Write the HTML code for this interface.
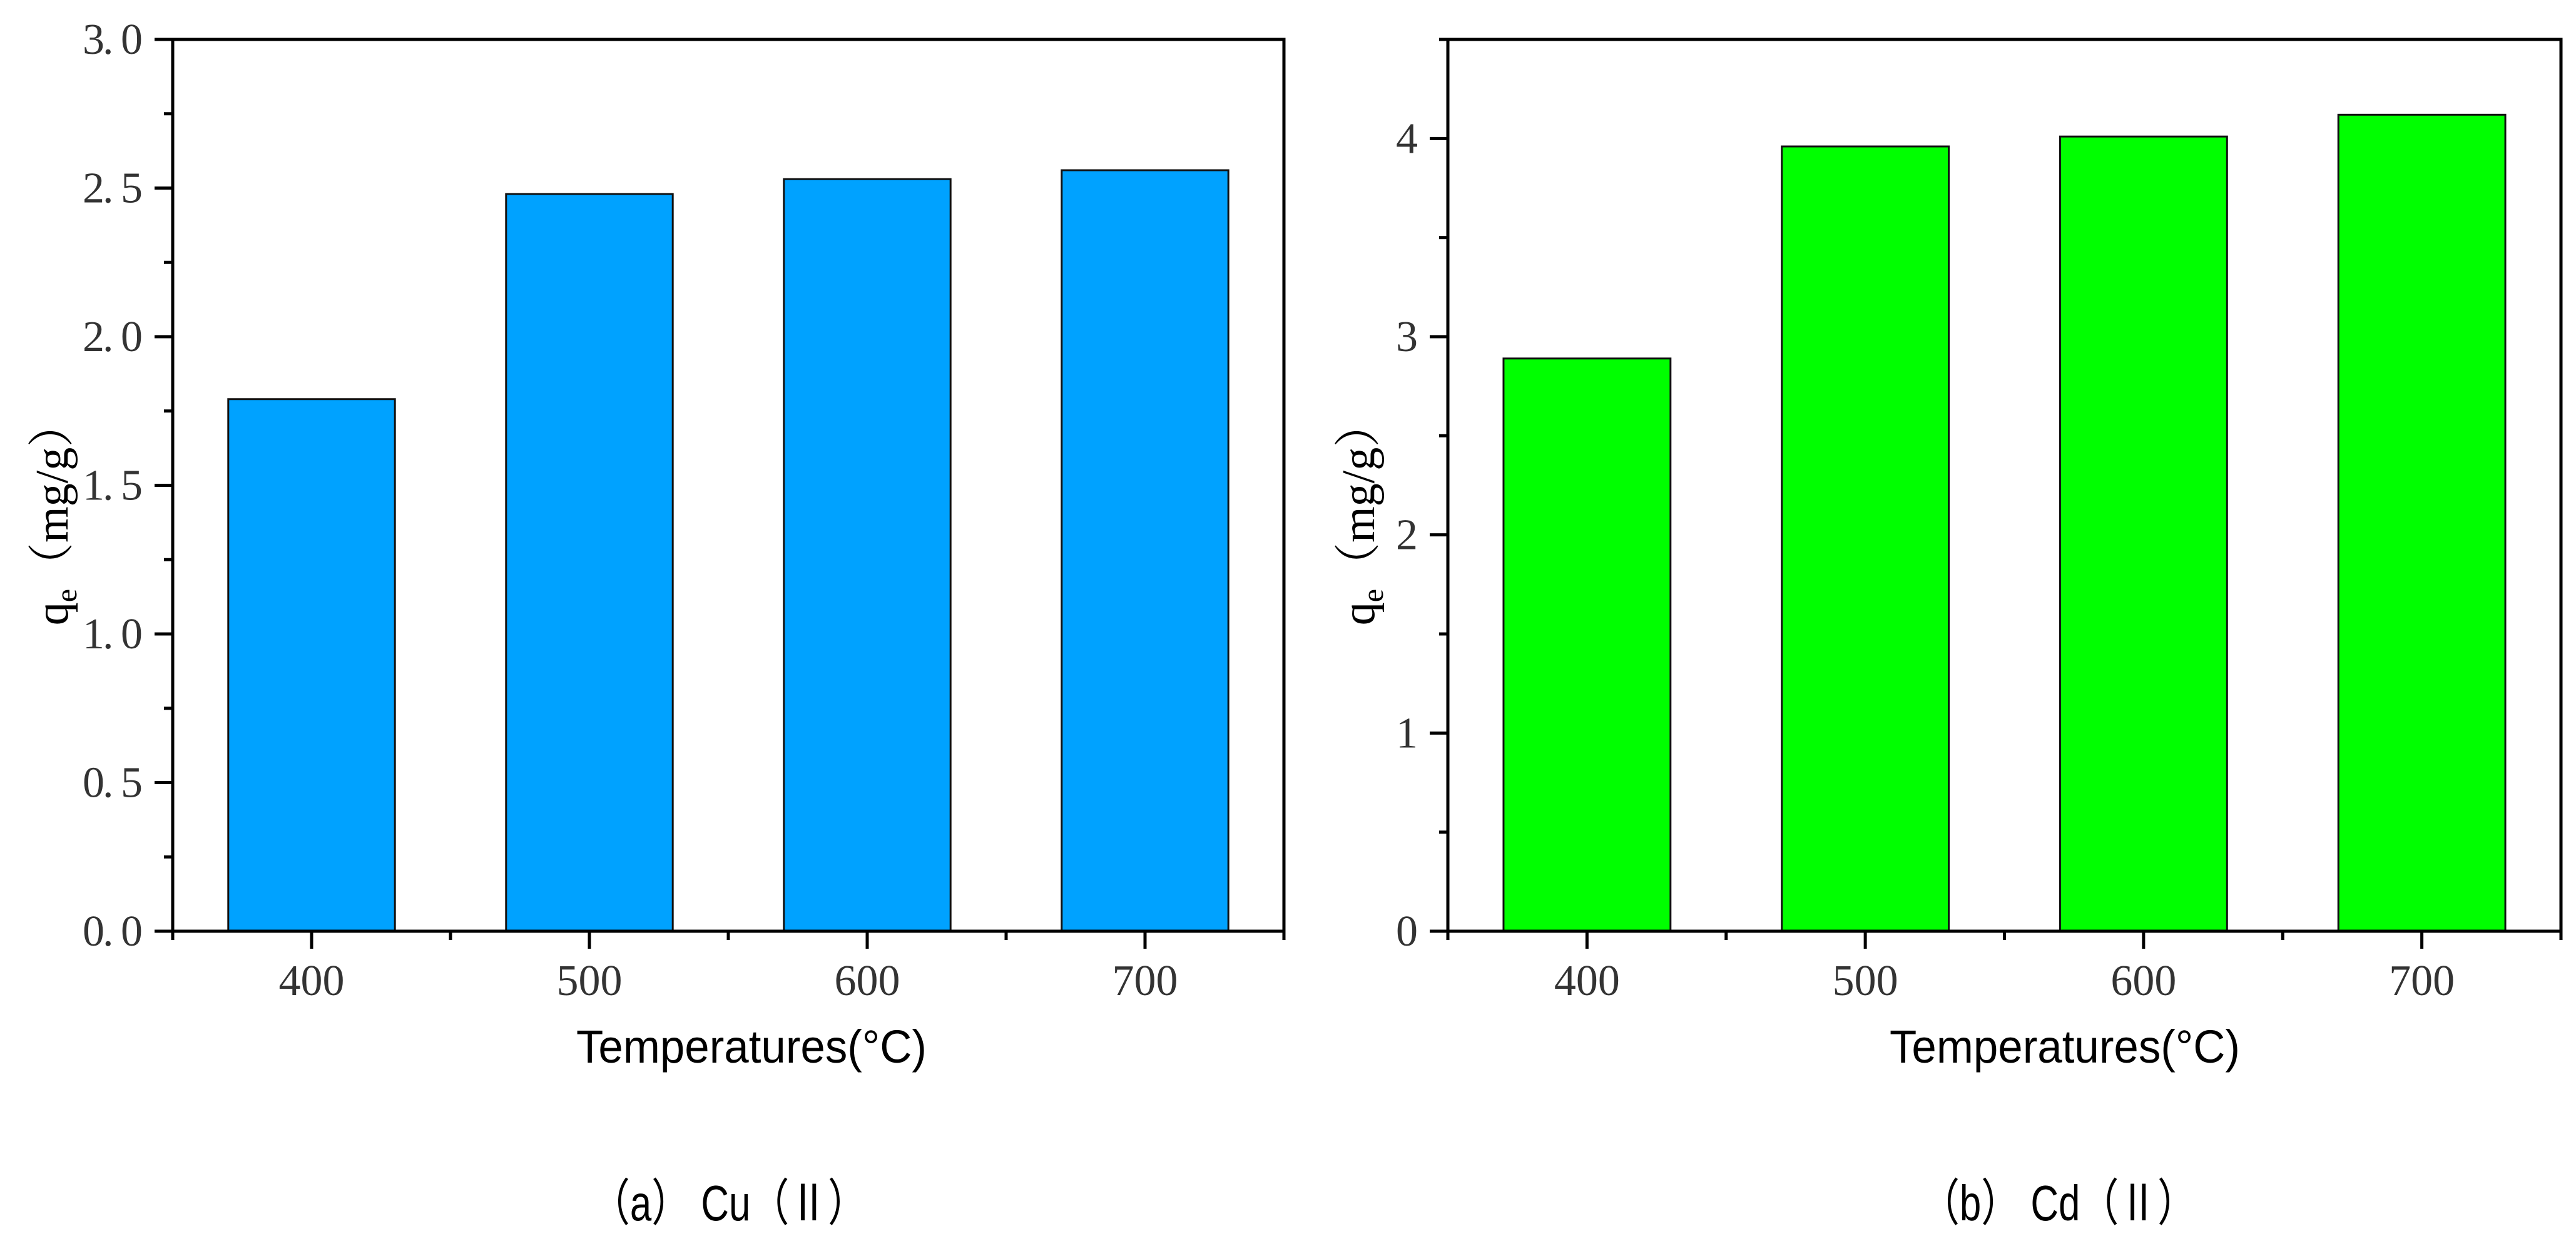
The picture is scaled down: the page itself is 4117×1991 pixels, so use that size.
<!DOCTYPE html>
<html><head><meta charset="utf-8"><style>
html,body{margin:0;padding:0;background:#fff;}
svg{display:block;}
</style></head><body>
<svg id="fig" width="4117" height="1991" viewBox="0 0 4117 1991" xmlns="http://www.w3.org/2000/svg"></svg>
<script>
const categories = [400, 500, 600, 700];
const cuValues = [1.79, 2.48, 2.53, 2.56];
const cdValues = [2.89, 3.96, 4.01, 4.12];
const cuTicks = [0, 0.5, 1.0, 1.5, 2.0, 2.5, 3.0];
const cuTickLabels = ["0. 0", "0. 5", "1. 0", "1. 5", "2. 0", "2. 5", "3. 0"];
const cdTicks = [0, 1, 2, 3, 4];
const cdTickLabels = ["0", "1", "2", "3", "4"];

const NS = "http://www.w3.org/2000/svg";
const svg = document.getElementById("fig");
function mk(tag, attrs, parent) {
  const e = document.createElementNS(NS, tag);
  for (const k in attrs) e.setAttribute(k, attrs[k]);
  (parent || svg).appendChild(e);
  return e;
}

function panel(cfg) {
  const g = mk("g", {});
  
  
  const L = cfg.left, R = cfg.right, T = 63, B = 1488;
  const xS = v => L + (v - 350) / 400 * (R - L);
  const yS = v => B - (v / cfg.ymax) * (B - T);
  cfg.values.forEach((v, i) => {
    const c = categories[i];
    const r = mk("rect", {x: xS(c - 30), y: yS(v), width: xS(c + 30) - xS(c - 30), height: B - yS(v), fill: cfg.color, stroke: "#111", "stroke-width": 3}, g);
    
    
  });
  const fr = mk("rect", {x: L, y: T, width: R - L, height: B - T, fill: "none", stroke: "#000", "stroke-width": 5}, g);
  
  
  for (let v = 0; v <= cfg.ymax + 1e-9; v += cfg.minor) {
    const isMaj = cfg.ticks.some(t => Math.abs(t - v) < 1e-9);
    mk("line", {x1: L - (isMaj ? 29 : 14), x2: L, y1: yS(v), y2: yS(v), stroke: "#000", "stroke-width": 5}, g);
  }
  cfg.ticks.forEach((t, i) => {
    const lab = cfg.labels[i];
    const attrs = {x: L - 48, y: yS(t) + 23, "text-anchor": "end", "font-family": "Liberation Serif, serif", "font-size": 70, fill: "#333"};
    if (lab.length > 2) attrs.textLength = 96;
    const tx = mk("text", attrs, g);
    tx.textContent = lab;
    
    
  });
  for (let v = 350; v <= 750; v += 50) {
    const isMaj = v % 100 === 0;
    mk("line", {x1: xS(v), x2: xS(v), y1: B, y2: B + (isMaj ? 28 : 14), stroke: "#000", "stroke-width": 5}, g);
  }
  categories.forEach(c => {
    const tx = mk("text", {x: xS(c), y: 1590, "text-anchor": "middle", "font-family": "Liberation Serif, serif", "font-size": 70, fill: "#333"}, g);
    tx.textContent = String(c);
    
    
  });
  const xt = mk("text", {x: cfg.xTitleX, y: 1698, "text-anchor": "middle", "font-family": "Liberation Sans, sans-serif", "font-size": 74, fill: "#000", textLength: 560, lengthAdjust: "spacingAndGlyphs"}, g);
  xt.textContent = "Temperatures(°C)";
  
  
  const yt = mk("text", {x: 0, y: 0, "text-anchor": "middle", "font-family": "Liberation Serif, Noto Serif CJK SC, serif", "font-size": 74, fill: "#000", transform: "translate(" + cfg.yTitleX + "," + 820 + ") rotate(-90)"}, g);
  
  
  const t1 = mk("tspan", {}, yt); t1.textContent = "q";
  const t2 = mk("tspan", {"font-size": 48, dy: 14}, yt); t2.textContent = "e";
  const t3 = mk("tspan", {dy: -14}, yt); t3.textContent = "（mg/g）";
  const cap = mk("text", {x: cfg.capX, y: 1950, "text-anchor": "middle", "font-family": "Liberation Sans, Noto Sans CJK SC, sans-serif", "font-size": 80, fill: "#000", textLength: 440, lengthAdjust: "spacingAndGlyphs"}, g);
  cap.textContent = cfg.caption;
  
  
}

panel({name: "chart-cu", left: 276, right: 2052, ymax: 3.0, minor: 0.25, ticks: cuTicks, labels: cuTickLabels, values: cuValues, color: "#00a2ff", xTitleX: 1201, yTitleX: 108, capX: 1165, caption: "（a） Cu（Ⅱ）"});
panel({name: "chart-cd", left: 2314, right: 4093, ymax: 4.5, minor: 0.5, ticks: cdTicks, labels: cdTickLabels, values: cdValues, color: "#00ff00", xTitleX: 3300, yTitleX: 2196, capX: 3290, caption: "（b） Cd（Ⅱ）"});
</script>
</body></html>
